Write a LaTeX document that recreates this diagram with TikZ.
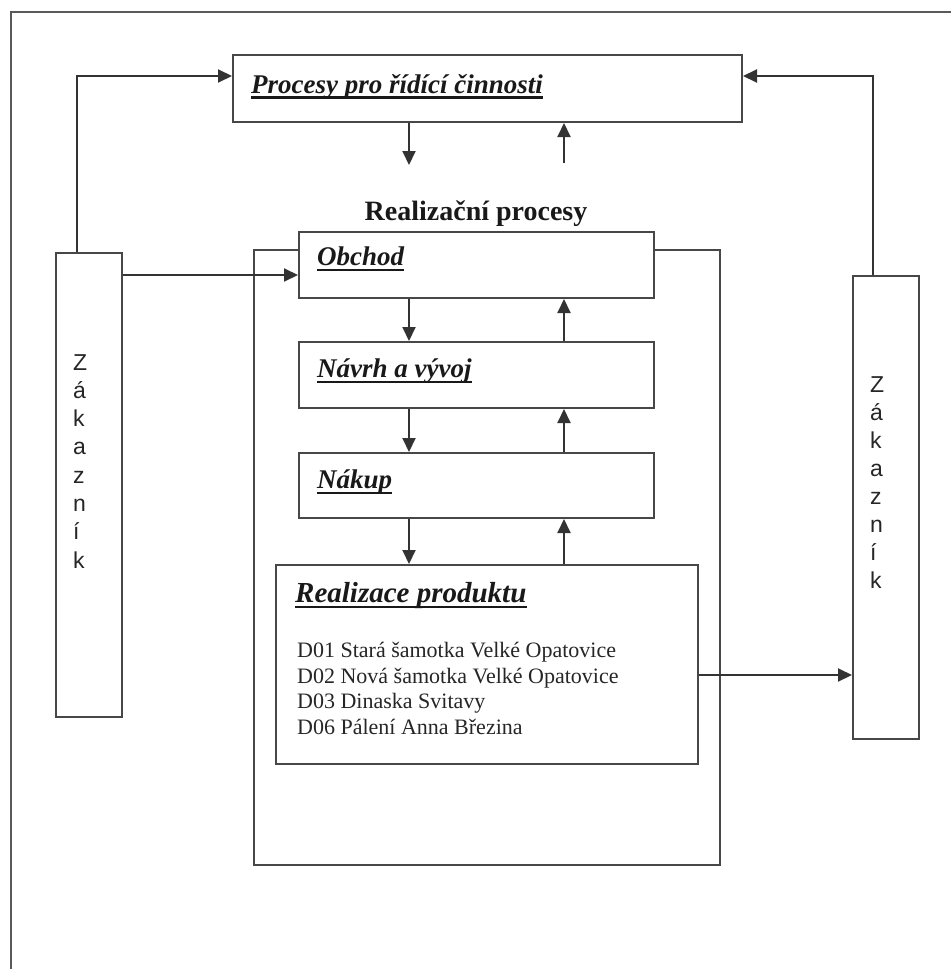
\documentclass[tikz,border=0pt]{standalone}
\usepackage{fontspec}
\setmainfont{Liberation Serif}
\newfontfamily\zakfont{Liberation Sans}
\usetikzlibrary{arrows.meta}
\begin{document}
\begin{tikzpicture}[x=1pt,y=-1pt,
  frameline/.style={draw=black!65, line width=2pt},
  box/.style={draw=black!72, line width=2pt, fill=white, anchor=north west, inner sep=0pt},
  conn/.style={draw=black!80, line width=2pt, -{Triangle[length=14pt,width=13pt]}},
  heading/.style={inner sep=0pt, anchor=base west, text=black!90,
    font=\fontsize{27}{30}\selectfont\bfseries\itshape},
  ulbar/.style={draw=black!90, line width=2.8pt},
  item/.style={inner sep=0pt, anchor=base west, text=black!85,
    font=\fontsize{22}{25}\selectfont},
  letter/.style={inner sep=0pt, anchor=base west, text=black!85,
    font=\zakfont\fontsize{23}{28}\selectfont}
]
\useasboundingbox (0,0) rectangle (951,969);

% page frame (only left and top edges)
\draw[frameline] (10.5,969) -- (10.5,11.5) -- (951,11.5);

% top process box
\node[box, minimum width=509pt, minimum height=67pt] (ridici) at (232,54) {};
\node[heading] (tRidici) at (251,93) {Procesy pro řídící činnosti};
\draw[ulbar] ([yshift=-4.5pt]tRidici.base west) -- ([yshift=-4.5pt]tRidici.base east);

% label of the realisation group
\node[inner sep=0pt, anchor=base, text=black!90,
  font=\fontsize{28}{30}\selectfont\bfseries] (realLabel) at (476,220) {Realizační procesy};

% container of the realisation processes
\node[draw=black!72, line width=2pt, anchor=north west, inner sep=0pt,
  minimum width=466pt, minimum height=615pt] (real) at (253,249) {};

% inner process boxes
\node[box, minimum width=355pt, minimum height=66pt] (obchod) at (298,231) {};
\node[box, minimum width=355pt, minimum height=66pt] (navrh) at (298,341) {};
\node[box, minimum width=355pt, minimum height=65pt] (nakup) at (298,452) {};
\node[box, minimum width=422pt, minimum height=199pt] (produkt) at (275,564) {};

\node[heading] (tObchod) at (317,265) {Obchod};
\draw[ulbar] ([yshift=-5pt]tObchod.base west) -- ([yshift=-5pt]tObchod.base east);
\node[heading] (tNavrh) at (317,377) {Návrh a vývoj};
\draw[ulbar] ([yshift=-5pt]tNavrh.base west) -- ([yshift=-5pt]tNavrh.base east);
\node[heading] (tNakup) at (317,488) {Nákup};
\draw[ulbar] ([yshift=-5pt]tNakup.base west) -- ([yshift=-5pt]tNakup.base east);
\node[heading, font=\fontsize{29}{32}\selectfont\bfseries\itshape] (tProdukt) at (295,602) {Realizace produktu};
\draw[ulbar] ([yshift=-5pt]tProdukt.base west) -- ([yshift=-5pt]tProdukt.base east);

\node[item] (d01) at (297,657) {D01 Stará šamotka Velké Opatovice};
\node[item] (d02) at (297,683) {D02 Nová šamotka Velké Opatovice};
\node[item] (d03) at (297,708) {D03 Dinaska Svitavy};
\node[item] (d06) at (297,734) {D06 Pálení Anna Březina};

% customer boxes
\node[box, minimum width=66pt, minimum height=464pt] (zakL) at (55,252) {};
\node[box, minimum width=66pt, minimum height=463pt] (zakR) at (852,275) {};
\foreach \c [count=\i from 0] in {Z,á,k,a,z,n,í,k} {
  \node[letter] (zl\i) at (73,{370+28.3*\i}) {\c};
  \node[letter] (zr\i) at (870,{392+28*\i}) {\c};
}

% free ends of the arrows below the top box
\coordinate (downEnd) at (409,165);
\coordinate (upStart) at (564,163);

% connectors
\draw[conn] (zakL.north -| 77,0) |- (ridici.west |- 0,76);
\draw[conn] (zakR.north -| 873,0) |- (ridici.east |- 0,76);
\draw[conn] (ridici.south -| downEnd) -- (downEnd);
\draw[conn] (upStart) -- (ridici.south -| upStart);

\draw[conn] (zakL.east |- 0,275) -- (obchod.west |- 0,275);

\draw[conn] (obchod.south -| 409,0) -- (navrh.north -| 409,0);
\draw[conn] (navrh.north -| 564,0) -- (obchod.south -| 564,0);
\draw[conn] (navrh.south -| 409,0) -- (nakup.north -| 409,0);
\draw[conn] (nakup.north -| 564,0) -- (navrh.south -| 564,0);
\draw[conn] (nakup.south -| 409,0) -- (produkt.north -| 409,0);
\draw[conn] (produkt.north -| 564,0) -- (nakup.south -| 564,0);

\draw[conn] (produkt.east |- 0,675) -- (zakR.west |- 0,675);
\end{tikzpicture}
\end{document}
